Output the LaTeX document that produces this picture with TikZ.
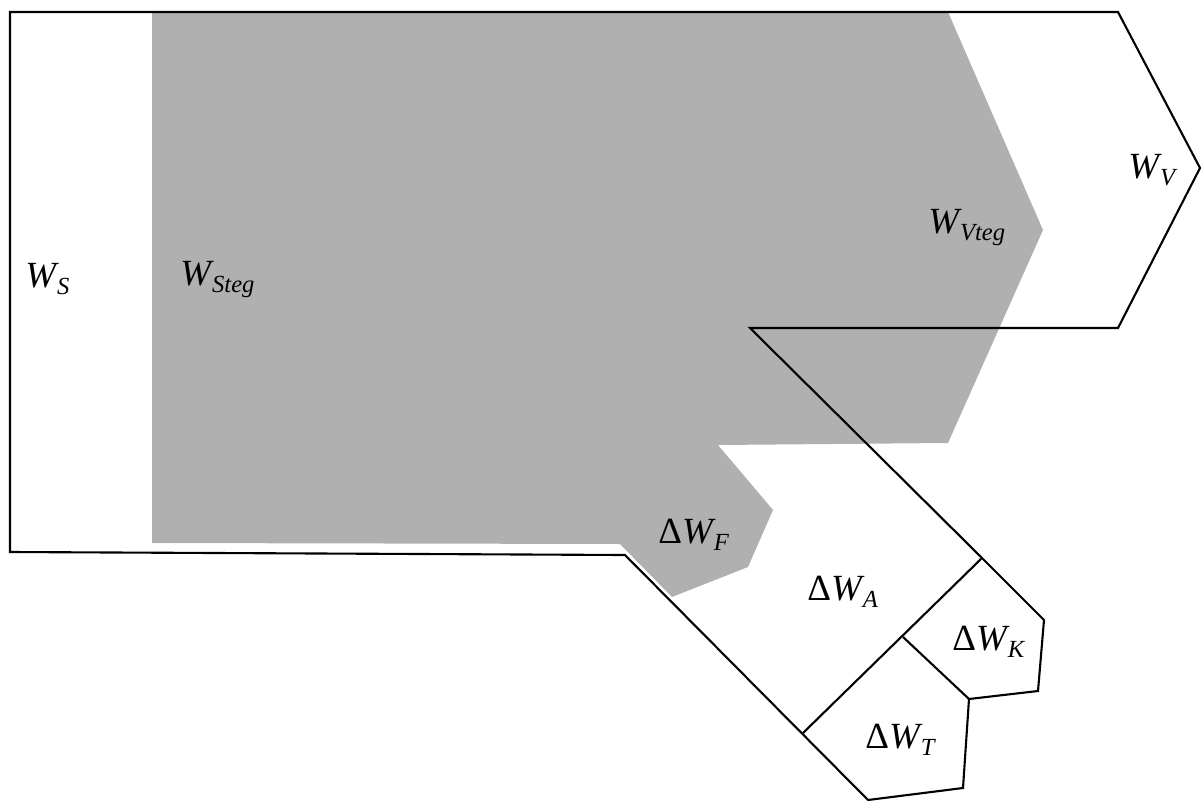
\documentclass[tikz,border=0pt]{standalone}
\usepackage{fontspec}
\setmainfont{Liberation Serif}
\usepackage{xcolor}
\usetikzlibrary{calc}

\definecolor{flowgrey}{RGB}{176,176,176}

% flow symbols: W with a lowered subscript, optionally with a Delta in front
\newcommand{\flowW}[1]{\textit{W}\kern-1pt\raisebox{-4pt}{\fontsize{14}{14}\selectfont\textit{#1}}}
\newcommand{\flowdW}[1]{\textup{Δ}\flowW{#1}}

\begin{document}
\begin{tikzpicture}[
    x=0.02cm, y=-0.02cm,
    outline/.style={draw=black, line width=1.2pt, line join=miter},
    useful/.style={fill=flowgrey, draw=none},
    lbl/.style={anchor=base west, inner sep=0pt, font=\rmfamily\fontsize{21}{24}\selectfont}
]
    \useasboundingbox (0,0) rectangle (1204,801);

    % Useful part of the flow (grey)
    \fill[useful] (152,12) -- (948,12) -- (1043,230) -- (948,443) -- (718,445)
        -- (773,510) -- (748,567) -- (672,597) -- (620,544) -- (152,543) -- cycle;

    % Outline of the whole flow
    \draw[outline] (10,12) -- (1118,12) -- (1200,168) -- (1118,328) -- (750,328)
        -- (982,558) -- (1044,620) -- (1038,691) -- (969,699) -- (963,788)
        -- (868,800) -- (625,555) -- (10,552) -- cycle;

    % Split of the losses
    \coordinate (AK) at (982,558);
    \coordinate (AT) at (803,733);
    \coordinate (KT) at (903,637);
    \coordinate (KTend) at (969,699);
    \draw[outline] (AK) -- (AT);
    \draw[outline] (KT) -- (KTend);

    % Labels
    \node[lbl] (Ws)    at (25,287)  {\flowW{S}};
    \node[lbl] (Wsteg) at (180,285) {\flowW{Steg}};
    \node[lbl] (Wvteg) at (928,233) {\flowW{Vteg}};
    \node[lbl] (Wv)    at (1128,178) {\flowW{V}};
    \node[lbl] (dWf)   at (658,543) {\flowdW{F}};
    \node[lbl] (dWa)   at (807,600) {\flowdW{A}};
    \node[lbl] (dWk)   at (952,650) {\flowdW{K}};
    \node[lbl] (dWt)   at (865,748) {\flowdW{T}};
\end{tikzpicture}
\end{document}
